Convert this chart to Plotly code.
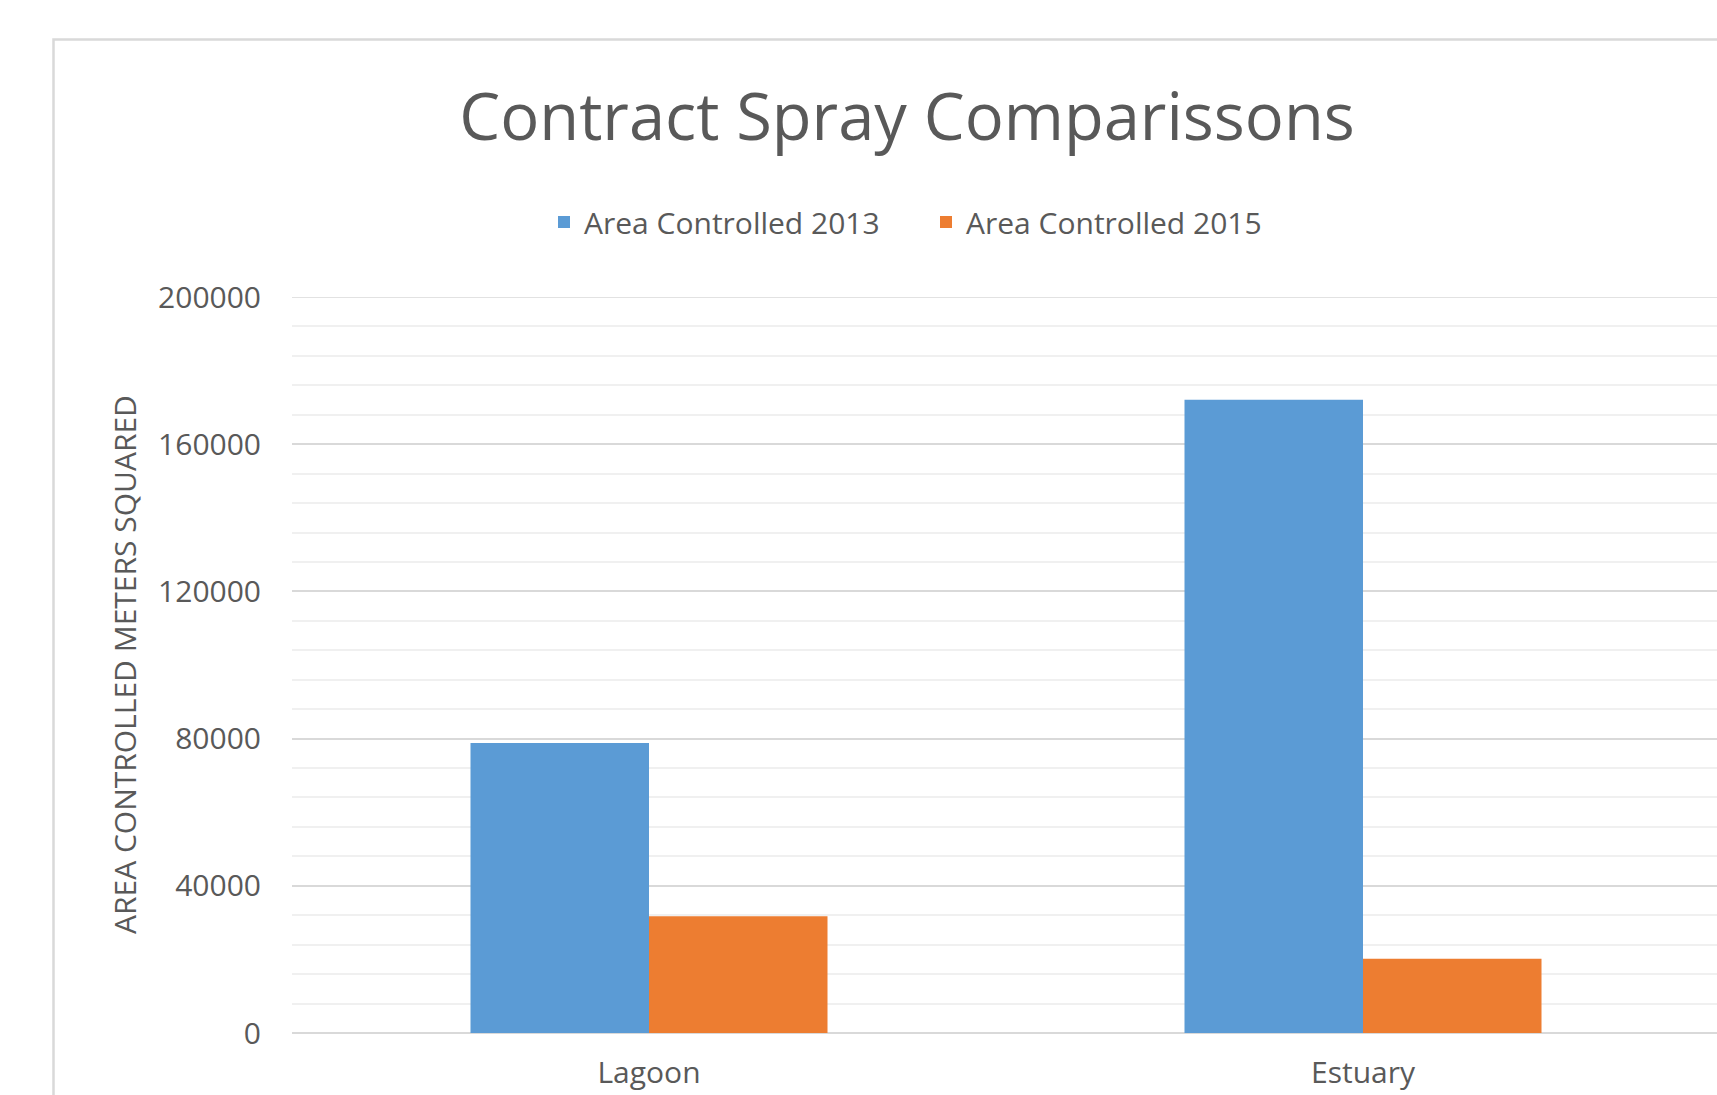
import plotly.graph_objects as go

categories = ["Lagoon", "Estuary"]
area_2013 = [78800, 172100]
area_2015 = [31700, 20200]
series_names = ["Area Controlled 2013", "Area Controlled 2015"]
y_ticks = [0, 40000, 80000, 120000, 160000, 200000]

W, H = 1717, 1095
ML, MR, MT, MB = 292, 0, 297, 62
PW, PH = W - ML - MR, H - MT - MB

def px_x(x):
    return (x - ML) / PW

def px_y(y):
    return (H - MB - y) / PH

FONT = "Open Sans"
GREY = "#595959"

fig = go.Figure()
fig.add_trace(go.Bar(x=categories, y=area_2013, name=series_names[0],
                     marker=dict(color="#5b9bd5", line=dict(width=0))))
fig.add_trace(go.Bar(x=categories, y=area_2015, name=series_names[1],
                     marker=dict(color="#ed7d31", line=dict(width=0))))

fig.update_layout(
    width=W, height=H,
    margin=dict(l=ML, r=MR, t=MT, b=MB, pad=0, autoexpand=False),
    paper_bgcolor="white", plot_bgcolor="white",
    barmode="group", bargap=0.5, bargroupgap=0,
    font=dict(family=FONT, color=GREY),
    title=dict(text="Contract Spray Comparissons", x=907 / W, xanchor="center",
               y=1 - 117 / H, yanchor="middle", yref="container",
               font=dict(family=FONT, size=65, color=GREY)),
    showlegend=True,
    legend=dict(orientation="h", x=px_x(926), xanchor="center",
                y=px_y(222), yanchor="middle",
                font=dict(family=FONT, size=30, color=GREY),
                entrywidth=337, entrywidthmode="pixels",
                bgcolor="rgba(0,0,0,0)"),
    xaxis=dict(range=[-0.5, -0.5 + PW / 714], showgrid=False, showline=False,
               zeroline=False, ticks="", ticklabelstandoff=19, automargin=False,
               tickfont=dict(family=FONT, size=30, color=GREY), fixedrange=True),
    yaxis=dict(range=[0, 200000], tickvals=y_ticks, ticktext=[str(v) for v in y_ticks],
               showgrid=True, gridcolor="#d9d9d9", gridwidth=1.5, automargin=False,
               zeroline=True, zerolinecolor="#d9d9d9", zerolinewidth=1.5,
               showline=False, ticks="", ticklabelstandoff=30,
               tickfont=dict(family=FONT, size=30, color=GREY),
               minor=dict(dtick=8000, tick0=0, showgrid=True, gridcolor="#f0f0f0", gridwidth=1.5)),
    annotations=[dict(text="AREA CONTROLLED METERS SQUARED", textangle=-90,
                      x=px_x(124), y=0.5, xref="paper", yref="paper",
                      xanchor="center", yanchor="middle", showarrow=False,
                      font=dict(family=FONT, size=30, color=GREY))],
    shapes=[dict(type="rect", xref="paper", yref="paper",
                 x0=px_x(53.5), x1=px_x(1760), y0=px_y(1140), y1=px_y(39.5),
                 line=dict(color="#d9d9d9", width=2.5), fillcolor="rgba(0,0,0,0)",
                 layer="below"),
            dict(type="line", xref="paper", yref="y",
                 x0=0, x1=1, y0=y_ticks[-1], y1=y_ticks[-1],
                 line=dict(color="#d9d9d9", width=1.5), layer="below")],
)

fig.write_html("out.html")
